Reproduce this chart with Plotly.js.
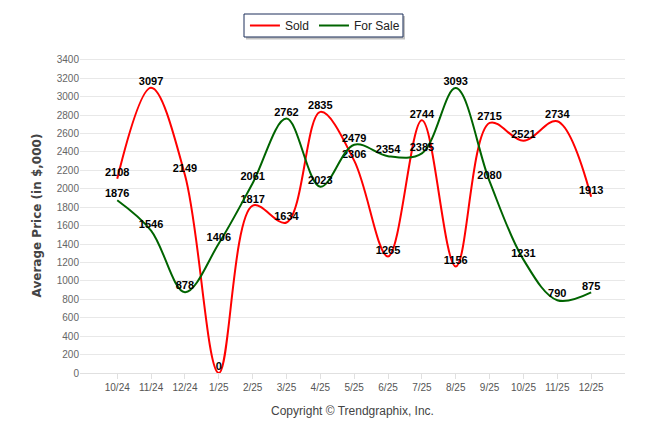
<!DOCTYPE html>
<html>
<head>
<meta charset="utf-8">
<script src="https://cdn.plot.ly/plotly-3.0.1.min.js"></script>
<style>html,body{margin:0;padding:0;background:#fff;}#chart{width:646px;height:434px;}</style>
</head>
<body>
<div id="chart"></div>
<script>
const months = ["10/24","11/24","12/24","1/25","2/25","3/25","4/25","5/25","6/25","7/25","8/25","9/25","10/25","11/25","12/25"];
const sold = [2108,3097,2149,0,1817,1634,2835,2306,1265,2744,1156,2715,2521,2734,1913];
const forSale = [1876,1546,878,1406,2061,2762,2023,2479,2354,2385,3093,2080,1231,790,875];
const yTicks = [0,200,400,600,800,1000,1200,1400,1600,1800,2000,2200,2400,2600,2800,3000,3200,3400];

const labelFont = {family:"Liberation Sans, Arial, sans-serif", size:11, color:"#000", weight:"bold"};
function trace(name, vals, color){
  return {
    type:"scatter", mode:"lines+text", name:name, x:months, y:vals,
    text:vals.map(String), textposition:"top center", textfont:labelFont,
    line:{color:color, width:2, shape:"spline", smoothing:1.0},
    cliponaxis:false, hoverinfo:"none"
  };
}
const data = [trace("Sold", sold, "#ff0000"), trace("For Sale", forSale, "#006400")];
const layout = {
  width:646, height:434,
  margin:{l:80, r:21, t:58, b:61},
  paper_bgcolor:"#fff", plot_bgcolor:"#fff",
  showlegend:true,
  legend:{orientation:"h", xref:"container", yref:"container", x:0.503, xanchor:"center", y:1-25.5/434, yanchor:"middle",
    bgcolor:"rgba(0,0,0,0)", borderwidth:0,
    font:{family:"Liberation Sans, Arial, sans-serif", size:12, color:"#222"}},
  shapes:[
    {type:"rect", xref:"paper", yref:"paper", x0:0.30459, x1:0.59633, y0:1.05873, y1:1.13333,
     fillcolor:"rgba(120,120,120,0.45)", line:{width:0}, layer:"above"},
    {type:"rect", xref:"paper", yref:"paper", x0:0.30092, x1:0.59266, y0:1.06667, y1:1.13968,
     fillcolor:"#ffffff", line:{color:"#1c2f5a", width:1}, layer:"above"}
  ],
  xaxis:{type:"category", range:[-1.1, 15.0], showgrid:false, zeroline:false,
    showline:true, linecolor:"#e0e0e0", linewidth:1,
    ticks:"outside", ticklen:5, tickcolor:"#e0e0e0",
    tickfont:{family:"Liberation Sans, Arial, sans-serif", size:10, color:"#555"},
    title:{text:"Copyright © Trendgraphix, Inc.", font:{family:"Liberation Sans, Arial, sans-serif", size:12, color:"#444"}, standoff:14}},
  yaxis:{range:[0, 3420], tickvals:yTicks, ticktext:yTicks.map(String),
    showgrid:true, gridcolor:"#e8e8e8", zeroline:false, showline:false,
    tickfont:{family:"Liberation Sans, Arial, sans-serif", size:10, color:"#666"},
    title:{text:"Average Price (in $,000)", font:{family:"DejaVu Sans, sans-serif", size:12, color:"#444", weight:"bold"}, standoff:12}},
  hovermode:false
};
Plotly.newPlot("chart", data, layout, {displayModeBar:false, staticPlot:true});
</script>
</body>
</html>
